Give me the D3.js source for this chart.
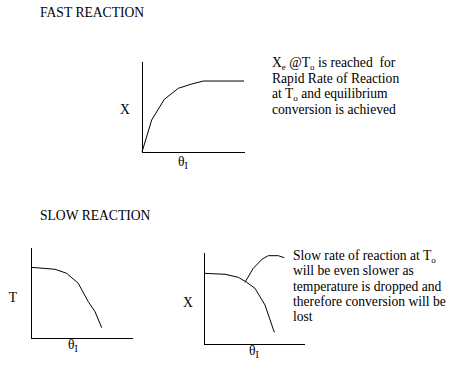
<!DOCTYPE html>
<html>
<head>
<meta charset="utf-8">
<script src="https://cdn.jsdelivr.net/npm/d3@7"></script>
<style>
  body { margin: 0; background: #fff; }
</style>
</head>
<body>
<svg id="chart" width="467" height="385"></svg>
<script>
// curve points, in each panel's own 0-100 units
var fastX = [0, 9.5, 21.9, 35.6, 48.7, 60.1, 100];
var fastY = [0, 35.2, 57.9, 70, 74.7, 78, 78];

var tempX = [0, 23.8, 35.3, 46.8, 56.7, 63.4, 70];
var tempY = [77.7, 75.5, 71.1, 60.1, 39.9, 28.9, 11.3];

var slowX = [0, 21, 34.3, 42.7, 51, 61, 70.3];
var slowY = [76.8, 75.8, 72.5, 67.1, 60.5, 42.4, 12.7];

var branchX = [41, 49.3, 58.3, 64.3, 74.3, 80.3];
var branchY = [67.1, 82.3, 92.4, 96, 96, 93.8];

var titles = ["FAST REACTION", "SLOW REACTION"];

var note1 = [
  [["X", ""], ["e", "sub"], [" @T", ""], ["o", "sub"], [" is reached  for", ""]],
  [["Rapid Rate of Reaction", ""]],
  [["at T", ""], ["o", "sub"], [" and equilibrium", ""]],
  [["conversion is achieved", ""]]
];
var note2 = [
  [["Slow rate of reaction at T", ""], ["o", "sub"]],
  [["will be even slower as", ""]],
  [["temperature is dropped and", ""]],
  [["therefore conversion will be", ""]],
  [["lost", ""]]
];

var serif = "'Liberation Serif', 'DejaVu Serif', serif";
var fs = 13.6;

var svg = d3.select("#chart")
    .attr("font-family", serif)
    .attr("font-size", fs);

function zip(a, b) {
    return a.map(function(v, i) { return [v, b[i]]; });
}

function txt(x, y) {
    return svg.append("text")
        .attr("x", x)
        .attr("y", y)
        .attr("font-family", serif)
        .attr("font-size", fs)
        .attr("fill", "#000")
        .style("white-space", "pre");
}

function panel(x0, x1, y0, y1, yLabel, yLabelPos, thetaPos) {
    var x = d3.scaleLinear().domain([0, 100]).range([x0, x1]);
    var y = d3.scaleLinear().domain([0, 100]).range([y0, y1]);

    svg.append("g")
        .attr("transform", "translate(0," + y0 + ")")
        .call(d3.axisBottom(x).tickValues([]).tickSizeOuter(0))
        .select(".domain").attr("stroke", "#000").attr("shape-rendering", "crispEdges");

    svg.append("g")
        .attr("transform", "translate(" + x0 + ",0)")
        .call(d3.axisLeft(y).tickValues([]).tickSizeOuter(0))
        .select(".domain").attr("stroke", "#000").attr("shape-rendering", "crispEdges");

    txt(yLabelPos[0], yLabelPos[1])
        .attr("text-anchor", "middle")
        .text(yLabel);

    var th = txt(thetaPos[0], thetaPos[1]);
    th.append("tspan").text("\u03B8");
    th.append("tspan").attr("dy", 3).attr("font-size", 10).text("I");

    return { x: x, y: y };
}

function curve(p, xs, ys) {
    var line = d3.line()
        .x(function(d) { return p.x(d[0]); })
        .y(function(d) { return p.y(d[1]); });
    svg.append("path")
        .datum(zip(xs, ys))
        .attr("d", line)
        .attr("fill", "none")
        .attr("stroke", "#000")
        .attr("stroke-width", 1);
}

function note(lines, x, y, gap) {
    lines.forEach(function(parts, i) {
        var t = txt(x, y + i * gap);
        parts.forEach(function(p, j) {
            var s = t.append("tspan").text(p[0]);
            if (p[1] == "sub") {
                s.attr("dy", 3).attr("font-size", 9);
            } else if (j > 0) {
                s.attr("dy", -3);
            }
        });
    });
}

txt(40, 17).text(titles[0]);
txt(40, 220).text(titles[1]);

var fast = panel(142, 244, 152, 61, "X", [125, 114], [178, 166]);
curve(fast, fastX, fastY);

var temp = panel(31, 132, 338, 247, "T", [13, 302], [68, 349]);
curve(temp, tempX, tempY);

var slow = panel(204, 304, 344, 252, "X", [188, 307], [249, 355]);
curve(slow, slowX, slowY);
curve(slow, branchX, branchY);

note(note1, 272, 67, 15.7);
note(note2, 293, 260, 15.3);
</script>
</body>
</html>
